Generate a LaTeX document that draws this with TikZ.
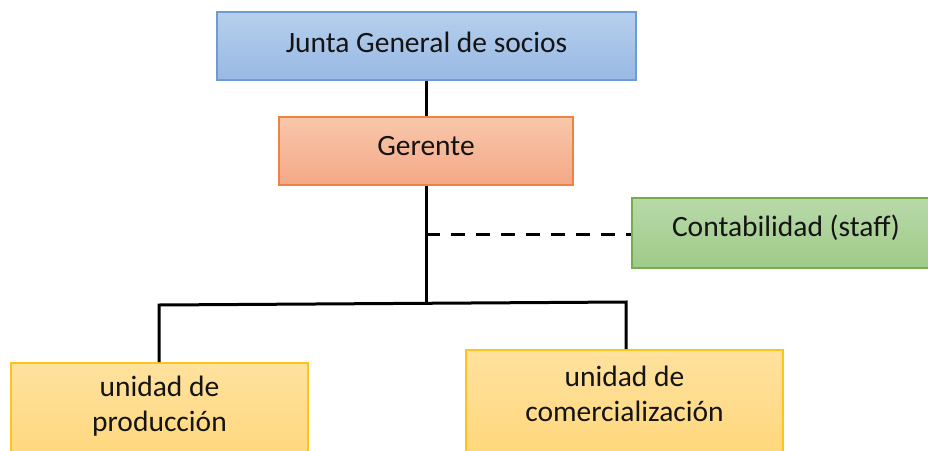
\documentclass[tikz,border=0pt]{standalone}
\usepackage{fontspec}
\setmainfont{Carlito}
\definecolor{bluetop}{HTML}{B6CFEC}
\definecolor{bluebot}{HTML}{98B9E4}
\definecolor{blueedge}{HTML}{6E9AD5}
\definecolor{orgtop}{HTML}{F8C7AB}
\definecolor{orgbot}{HTML}{F4A886}
\definecolor{orgedge}{HTML}{EE8245}
\definecolor{grntop}{HTML}{B8D9A9}
\definecolor{grnbot}{HTML}{9FCA88}
\definecolor{grnedge}{HTML}{72AE4A}
\definecolor{yeltop}{HTML}{FFE29F}
\definecolor{yelbot}{HTML}{FFD473}
\definecolor{yeledge}{HTML}{FFC41A}
\definecolor{txt}{HTML}{141414}
\begin{document}
\begin{tikzpicture}[x=1pt,y=-1pt,
  box/.style={rectangle,inner sep=0pt,line width=1.5pt,font=\fontsize{29.5}{35}\selectfont,text=txt,align=center},
  bluebox/.style={box,draw=blueedge,top color=bluetop,bottom color=bluebot},
  orgbox/.style={box,draw=orgedge,top color=orgtop,bottom color=orgbot},
  grnbox/.style={box,draw=grnedge,top color=grntop,bottom color=grnbot},
  yelbox/.style={box,draw=yeledge,top color=yeltop,bottom color=yelbot},
  lbl/.style={font=\fontsize{29.5}{35}\selectfont,text=txt,align=center,inner sep=0pt},
  conn/.style={line width=3pt,black},
  dashconn/.style={line width=3pt,black,dash pattern=on 14pt off 11pt}]
\useasboundingbox (0,0) rectangle (928,450);
\clip (0,0) rectangle (928,450);
\node[bluebox,minimum width=419pt,minimum height=68pt] (junta) at (426.5,46) {};
\node[lbl] (juntal) at (426.5,42) {Junta General de socios};
\node[orgbox,minimum width=294pt,minimum height=68pt] (ger) at (426,151) {};
\node[lbl] (gerl) at (426,146) {Gerente};
\node[grnbox,minimum width=300pt,minimum height=70pt] (cont) at (782,233) {};
\node[lbl] (contl) at (786,228) {Contabilidad (staff)};
\node[yelbox,minimum width=297pt,minimum height=120pt,anchor=north] (prod) at (159.5,362) {};
\node[lbl] (prodl) at (159.5,406) {unidad de\\producción};
\node[yelbox,minimum width=317pt,minimum height=130pt,anchor=north] (com) at (624.5,349) {};
\node[lbl] (coml) at (624.5,394) {unidad de\\comercialización};
\coordinate (j) at (426,304);
\coordinate (d) at (426,234);
\coordinate (lc) at (159,305);
\coordinate (rc) at (626,302);
\draw[conn] (junta.south -| 426,0) -- (ger.north -| 426,0);
\draw[conn] (ger.south -| 426,0) -- (j);
\draw[dashconn] (d) -- (cont.west |- d);
\draw[conn,line join=miter] (prod.north -| lc) -- (lc) -- (rc) -- (com.north -| rc);
\end{tikzpicture}
\end{document}
